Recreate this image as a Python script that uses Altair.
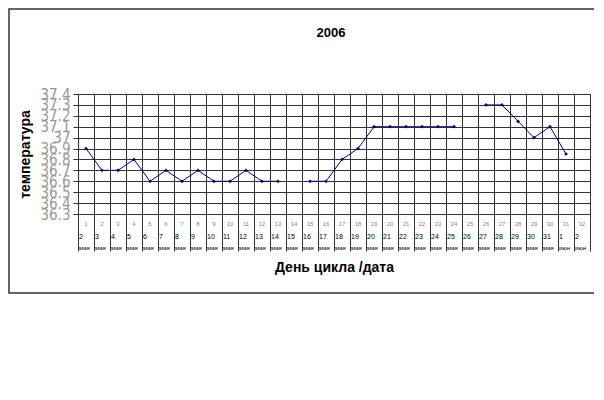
import altair as alt
import pandas as pd

cycle_days = list(range(1, 33))
dates = ["2", "3", "4", "5", "6", "7", "8", "9", "10", "11", "12", "13", "14", "15", "16",
         "17", "18", "19", "20", "21", "22", "23", "24", "25", "26", "27", "28", "29", "30",
         "31", "1", "2"]
months = ["мая"] * 30 + ["июн"] * 2
temps = [36.9, 36.7, 36.7, 36.8, 36.6, 36.7, 36.6, 36.7, 36.6, 36.6, 36.7, 36.6, 36.6, None,
         36.6, 36.6, 36.8, 36.9, 37.1, 37.1, 37.1, 37.1, 37.1, 37.1, None,
         37.3, 37.3, 37.15, 37.0, 37.1, 36.85, None]
chart_title = "2006"

seg, s = [], 0
for t in temps:
    if t is None:
        s += 1
    seg.append(s)

df = pd.DataFrame({"day": cycle_days, "date": dates, "month": months, "temp": temps, "seg": seg})

W, H = 512, 120
x_ticks = [i + 0.5 for i in range(33)]
y_ticks = [round(36.3 + 0.1 * i, 1) for i in range(12)]

xscale = alt.Scale(domain=[0.5, 32.5], nice=False, zero=False)
yscale = alt.Scale(domain=[36.3, 37.4], nice=False, zero=False)

xaxis = alt.Axis(values=x_ticks, tickCount=60, labels=False, grid=True, gridColor="#333",
                 gridOpacity=1, tickSize=37, tickColor="#333", domainColor="#333",
                 title="День цикла /дата", titleFont="Liberation Sans", titleFontSize=14,
                 titleFontWeight="bold", titleColor="#000", titleX=256, titleY=53,
                 titleBaseline="middle", titleAlign="center")
yaxis = alt.Axis(values=y_ticks, tickCount=30, format=".1~f", grid=True, gridColor="#333",
                 gridOpacity=1, labelOverlap=False, labelFontSize=15, labelColor="#999",
                 labelFont="Liberation Sans Narrow, DejaVu Sans Condensed, Liberation Sans",
                 labelPadding=3, tickSize=5, tickColor="#333", domainColor="#333",
                 title="температура", titleFont="Liberation Sans", titleFontSize=14,
                 titleFontWeight="bold", titleColor="#000", titleX=-53, titleY=60,
                 titleAngle=270, titleBaseline="middle", titleAlign="center")

base = alt.Chart(df)

line = base.mark_line(color="#000080", strokeWidth=1).encode(
    x=alt.X("day:Q", scale=xscale, axis=xaxis),
    y=alt.Y("temp:Q", scale=yscale, axis=yaxis),
    detail="seg:N",
)
pts = base.mark_point(shape="diamond", filled=True, size=14, color="#000080", opacity=1).encode(
    x=alt.X("day:Q", scale=xscale),
    y=alt.Y("temp:Q", scale=yscale),
)
row1 = base.mark_text(fontSize=6, color="#888", font="Liberation Sans", align="center",
                      baseline="middle").encode(
    x=alt.X("day:Q", scale=xscale), y=alt.value(130), text="day:N")
row2 = base.mark_text(fontSize=7, color="#000", font="Liberation Sans", align="left",
                      baseline="middle", dx=-7).encode(
    x=alt.X("day:Q", scale=xscale), y=alt.value(143), text="date:N")
row3 = base.mark_text(fontSize=6, color="#000", font="Liberation Sans", align="left",
                      baseline="middle", dx=-7).encode(
    x=alt.X("day:Q", scale=xscale), y=alt.value(154), text="month:N")

frame = alt.Chart(alt.Data(values=[{"a": 1}])).mark_rect(
    fillOpacity=0, stroke="#333", strokeWidth=1.5).encode(
    x=alt.value(-69), x2=alt.value(522), y=alt.value(-85), y2=alt.value(199))

title = alt.Chart(alt.Data(values=[{"t": chart_title}])).mark_text(
    fontSize=13, fontWeight="bold", font="Liberation Sans", color="#000",
    align="center", baseline="middle").encode(
    x=alt.value(253), y=alt.value(-61), text="t:N")

chart = alt.layer(frame, line, pts, row1, row2, row3, title).properties(
    width=W, height=H,
    autosize=alt.AutoSizeParams(type="none"),
    padding={"left": 70, "top": 86, "right": 4, "bottom": 140},
).configure_view(stroke="#333", strokeWidth=1).configure(background="white")

chart.save("out.html", embed_options={"renderer": "svg", "actions": False})
